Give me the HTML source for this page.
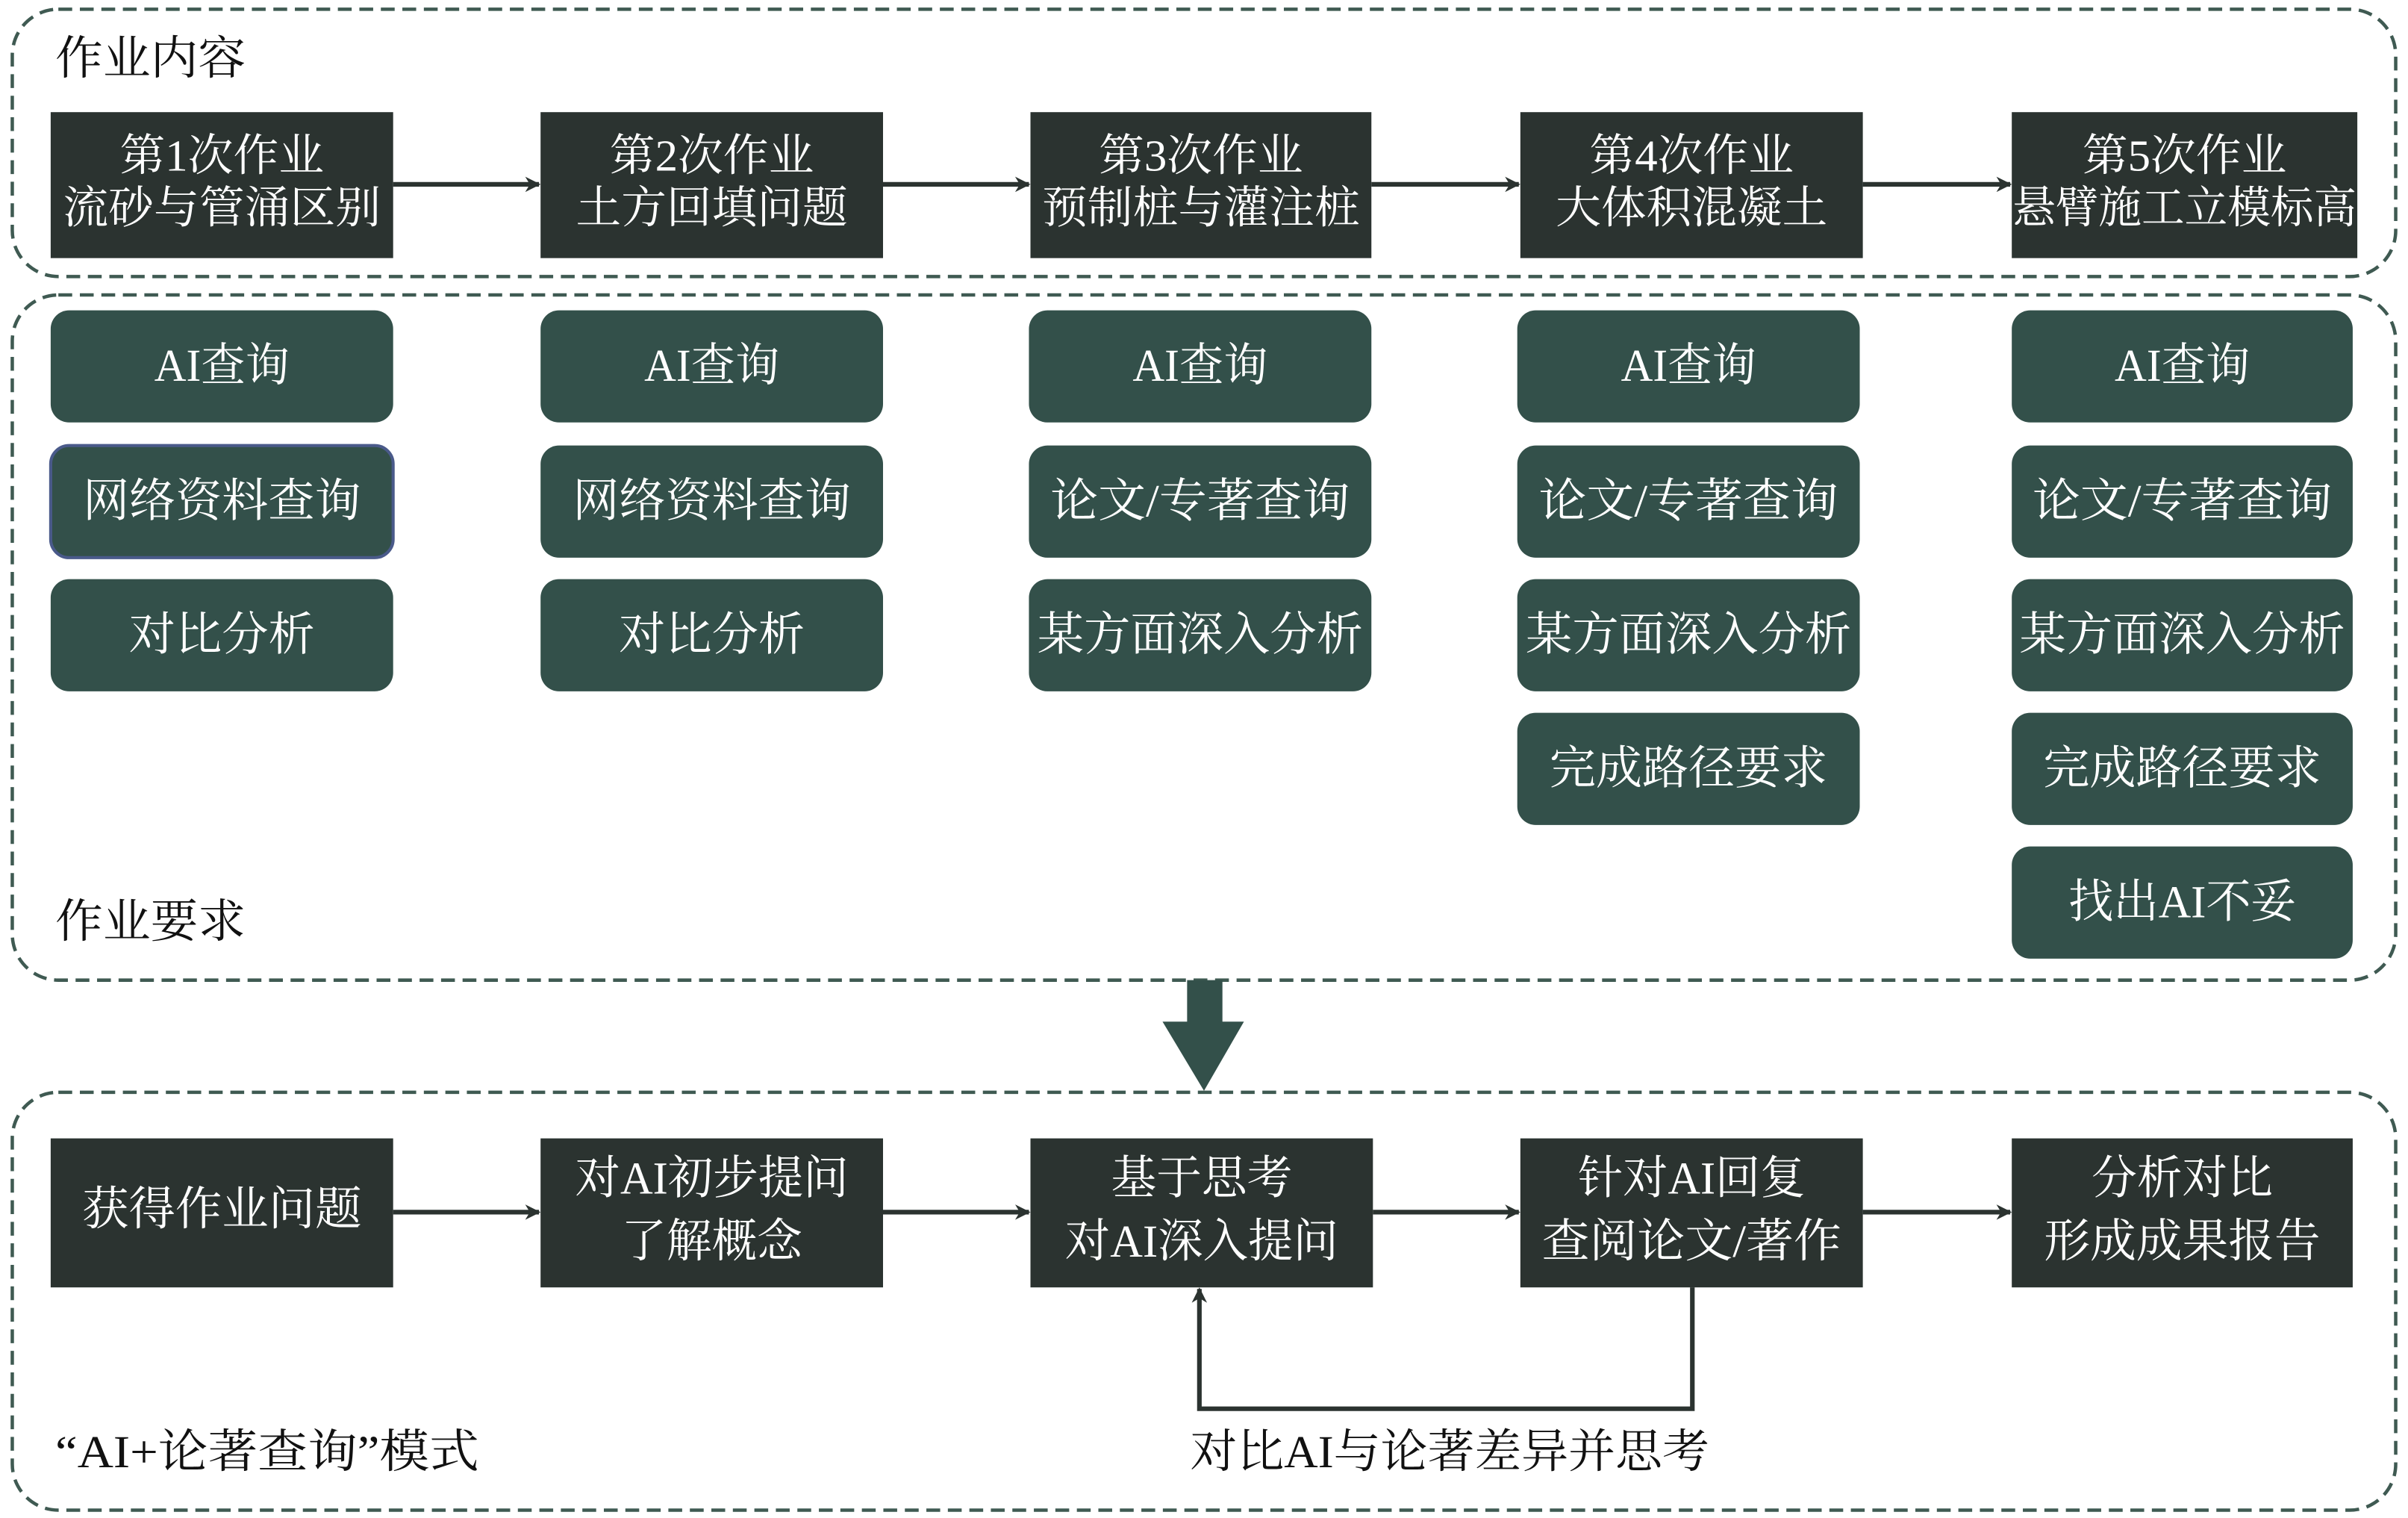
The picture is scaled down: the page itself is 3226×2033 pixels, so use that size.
<!DOCTYPE html>
<html><head><meta charset="utf-8"><style>
html,body{margin:0;padding:0;background:#fff;}
svg{display:block;}
text{font-family:"Liberation Serif","Noto Serif CJK SC",serif;}
</style></head><body>
<svg width="3226" height="2033" viewBox="0 0 1568 988.1" preserveAspectRatio="none" xmlns="http://www.w3.org/2000/svg">
<defs>
<marker id="ah" markerWidth="10" markerHeight="10" refX="9" refY="5" orient="auto" markerUnits="userSpaceOnUse">
<path d="M0,0 L10,5 L0,10 L3,5 Z" fill="#2b3330"/>
</marker>
</defs>
<!-- dashed containers -->
<g fill="none" stroke="#3f5a52" stroke-width="2.2" stroke-dasharray="9,5">
<rect x="8" y="6" width="1552" height="174" rx="30"/>
<rect x="8" y="192" width="1552" height="446" rx="30"/>
<rect x="8" y="711" width="1552" height="272" rx="30"/>
</g>
<g font-size="30" fill="#111">
<text x="36" y="48" textLength="124" lengthAdjust="spacingAndGlyphs">作业内容</text>
<text x="36" y="610" textLength="124" lengthAdjust="spacingAndGlyphs">作业要求</text>
<text x="36" y="955" textLength="276" lengthAdjust="spacingAndGlyphs">“AI+论著查询”模式</text>
<text x="775" y="955" textLength="338" lengthAdjust="spacingAndGlyphs">对比AI与论著差异并思考</text>
</g>
<!-- top row -->
<g fill="#2b3330">
<rect x="33" y="73" width="223" height="95"/>
<rect x="352" y="73" width="223" height="95"/>
<rect x="671" y="73" width="222" height="95"/>
<rect x="990" y="73" width="223" height="95"/>
<rect x="1310" y="73" width="225" height="95"/>
</g>
<g stroke="#2b3330" stroke-width="3" marker-end="url(#ah)">
<line x1="256" y1="120" x2="351" y2="120"/>
<line x1="575" y1="120" x2="670" y2="120"/>
<line x1="893" y1="120" x2="989" y2="120"/>
<line x1="1213" y1="120" x2="1309" y2="120"/>
</g>
<g font-size="29" fill="#fff" text-anchor="middle" lengthAdjust="spacingAndGlyphs">
<text x="144.5" y="111" textLength="133" lengthAdjust="spacingAndGlyphs">第1次作业</text>
<text x="144.5" y="145" textLength="207" lengthAdjust="spacingAndGlyphs">流砂与管涌区别</text>
<text x="463.5" y="111" textLength="133" lengthAdjust="spacingAndGlyphs">第2次作业</text>
<text x="463.5" y="145" textLength="177" lengthAdjust="spacingAndGlyphs">土方回填问题</text>
<text x="782" y="111" textLength="133" lengthAdjust="spacingAndGlyphs">第3次作业</text>
<text x="782" y="145" textLength="207" lengthAdjust="spacingAndGlyphs">预制桩与灌注桩</text>
<text x="1101.5" y="111" textLength="133" lengthAdjust="spacingAndGlyphs">第4次作业</text>
<text x="1101.5" y="145" textLength="177" lengthAdjust="spacingAndGlyphs">大体积混凝土</text>
<text x="1422.5" y="111" textLength="133" lengthAdjust="spacingAndGlyphs">第5次作业</text>
<text x="1422.5" y="145" textLength="224" lengthAdjust="spacingAndGlyphs">悬臂施工立模标高</text>
</g>
<!-- rounded boxes -->
<g fill="#33504a">
<rect x="33" y="202" width="223" height="73" rx="12"/>
<rect x="33" y="290" width="223" height="73" rx="12" stroke="#4a5a8a" stroke-width="2"/>
<rect x="33" y="377" width="223" height="73" rx="12"/>
<rect x="352" y="202" width="223" height="73" rx="12"/>
<rect x="352" y="290" width="223" height="73" rx="12"/>
<rect x="352" y="377" width="223" height="73" rx="12"/>
<rect x="670" y="202" width="223" height="73" rx="12"/>
<rect x="670" y="290" width="223" height="73" rx="12"/>
<rect x="670" y="377" width="223" height="73" rx="12"/>
<rect x="988" y="202" width="223" height="73" rx="12"/>
<rect x="988" y="290" width="223" height="73" rx="12"/>
<rect x="988" y="377" width="223" height="73" rx="12"/>
<rect x="988" y="464" width="223" height="73" rx="12"/>
<rect x="1310" y="202" width="222" height="73" rx="12"/>
<rect x="1310" y="290" width="222" height="73" rx="12"/>
<rect x="1310" y="377" width="222" height="73" rx="12"/>
<rect x="1310" y="464" width="222" height="73" rx="12"/>
<rect x="1310" y="551" width="222" height="73" rx="12"/>
</g>
<g font-size="30" fill="#fff" text-anchor="middle">
<text x="144.5" y="248" textLength="88" lengthAdjust="spacingAndGlyphs">AI查询</text>
<text x="144.5" y="336" textLength="181" lengthAdjust="spacingAndGlyphs">网络资料查询</text>
<text x="144.5" y="423" textLength="121" lengthAdjust="spacingAndGlyphs">对比分析</text>
<text x="463.5" y="248" textLength="88" lengthAdjust="spacingAndGlyphs">AI查询</text>
<text x="463.5" y="336" textLength="181" lengthAdjust="spacingAndGlyphs">网络资料查询</text>
<text x="463.5" y="423" textLength="121" lengthAdjust="spacingAndGlyphs">对比分析</text>
<text x="781.5" y="248" textLength="88" lengthAdjust="spacingAndGlyphs">AI查询</text>
<text x="781.5" y="336" textLength="195" lengthAdjust="spacingAndGlyphs">论文/专著查询</text>
<text x="781.5" y="423" textLength="212" lengthAdjust="spacingAndGlyphs">某方面深入分析</text>
<text x="1099.5" y="248" textLength="88" lengthAdjust="spacingAndGlyphs">AI查询</text>
<text x="1099.5" y="336" textLength="195" lengthAdjust="spacingAndGlyphs">论文/专著查询</text>
<text x="1099.5" y="423" textLength="212" lengthAdjust="spacingAndGlyphs">某方面深入分析</text>
<text x="1099.5" y="510" textLength="181" lengthAdjust="spacingAndGlyphs">完成路径要求</text>
<text x="1421" y="248" textLength="88" lengthAdjust="spacingAndGlyphs">AI查询</text>
<text x="1421" y="336" textLength="195" lengthAdjust="spacingAndGlyphs">论文/专著查询</text>
<text x="1421" y="423" textLength="212" lengthAdjust="spacingAndGlyphs">某方面深入分析</text>
<text x="1421" y="510" textLength="181" lengthAdjust="spacingAndGlyphs">完成路径要求</text>
<text x="1421" y="597" textLength="148" lengthAdjust="spacingAndGlyphs">找出AI不妥</text>
</g>
<!-- big arrow -->
<path d="M773,638 L796,638 L796,665 L810,665 L784,710 L757,665 L773,665 Z" fill="#33504a"/>
<!-- bottom row -->
<g fill="#2b3330">
<rect x="33" y="741" width="223" height="97"/>
<rect x="352" y="741" width="223" height="97"/>
<rect x="671" y="741" width="223" height="97"/>
<rect x="990" y="741" width="223" height="97"/>
<rect x="1310" y="741" width="222" height="97"/>
</g>
<g stroke="#2b3330" stroke-width="3" fill="none" marker-end="url(#ah)">
<line x1="256" y1="789" x2="351" y2="789"/>
<line x1="575" y1="789" x2="670" y2="789"/>
<line x1="894" y1="789" x2="989" y2="789"/>
<line x1="1213" y1="789" x2="1309" y2="789"/>
<polyline points="1102,838 1102,917 781,917 781,839"/>
</g>
<g font-size="30" fill="#fff" text-anchor="middle">
<text x="144.5" y="797" textLength="182" lengthAdjust="spacingAndGlyphs">获得作业问题</text>
<text x="463.5" y="777" textLength="178" lengthAdjust="spacingAndGlyphs">对AI初步提问</text>
<text x="463.5" y="818" textLength="118" lengthAdjust="spacingAndGlyphs">了解概念</text>
<text x="782.5" y="777" textLength="118" lengthAdjust="spacingAndGlyphs">基于思考</text>
<text x="782.5" y="818" textLength="178" lengthAdjust="spacingAndGlyphs">对AI深入提问</text>
<text x="1101.5" y="777" textLength="148" lengthAdjust="spacingAndGlyphs">针对AI回复</text>
<text x="1101.5" y="818" textLength="195" lengthAdjust="spacingAndGlyphs">查阅论文/著作</text>
<text x="1421" y="777" textLength="118" lengthAdjust="spacingAndGlyphs">分析对比</text>
<text x="1421" y="818" textLength="180" lengthAdjust="spacingAndGlyphs">形成成果报告</text>
</g>
</svg>
</body></html>
